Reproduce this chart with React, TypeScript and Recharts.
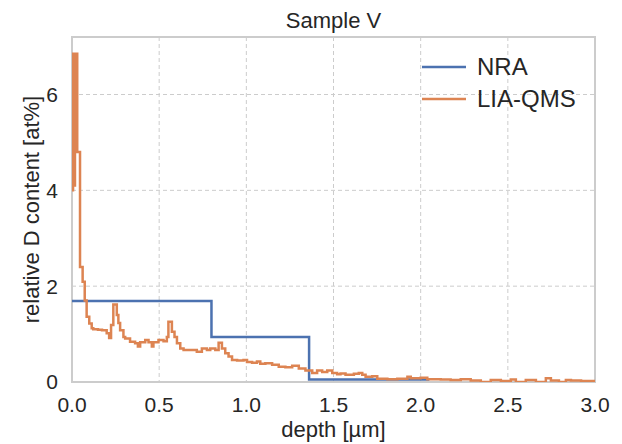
import React from 'react';
import { LineChart, Line, XAxis, YAxis, CartesianGrid, ReferenceArea, Label } from 'recharts';

const NRA_DEPTH = [0, 0.8, 1.36, 2.05];
const NRA_VALUE = [1.69, 0.94, 0.05, 0.05];

const LIA_DEPTH = [
  0, 0.006, 0.011, 0.017, 0.03, 0.046, 0.061, 0.073, 0.084, 0.099,
  0.113, 0.122, 0.149, 0.172, 0.199, 0.213, 0.224, 0.237, 0.257, 0.266,
  0.276, 0.295, 0.305, 0.333, 0.362, 0.378, 0.391, 0.42, 0.439, 0.458,
  0.467, 0.496, 0.525, 0.544, 0.553, 0.573, 0.588, 0.602, 0.621, 0.64,
  0.716, 0.745, 0.774, 0.793, 0.822, 0.841, 0.86, 0.879, 0.898, 0.918,
  0.947, 0.984, 1.004, 1.033, 1.061, 1.08, 1.109, 1.148, 1.186, 1.224,
  1.263, 1.301, 1.339, 1.378, 1.406, 1.435, 1.464, 1.493, 1.521, 1.54,
  1.569, 1.617, 1.645, 1.665, 1.684, 1.722, 1.751, 1.809, 1.866, 1.924,
  1.943, 2.0, 2.038, 2.115, 2.172, 2.23, 2.287, 2.345, 2.402, 2.46,
  2.517, 2.546, 2.603, 2.661, 2.718, 2.747, 2.793, 2.833, 2.862, 2.92, 3.0,
];
const LIA_VALUE = [
  4.0, 6.85, 4.1, 6.85, 4.8, 2.4, 2.09, 1.7, 1.36, 1.22,
  1.12, 1.1, 1.09, 1.08, 1.02, 0.92, 1.19, 1.62, 1.4, 1.23,
  1.08, 0.94, 0.91, 0.84, 0.81, 0.74, 0.83, 0.875, 0.83, 0.74,
  0.83, 0.875, 0.85, 0.94, 1.26, 1.05, 0.94, 0.81, 0.7, 0.67,
  0.63, 0.7, 0.67, 0.7, 0.67, 0.82, 0.7, 0.6, 0.53, 0.46,
  0.45, 0.46, 0.42, 0.4, 0.43, 0.38, 0.39, 0.36, 0.32, 0.31,
  0.34, 0.28, 0.24, 0.19, 0.24, 0.21, 0.24, 0.19, 0.16, 0.18,
  0.15, 0.17, 0.19, 0.15, 0.11, 0.12, 0.07, 0.06, 0.07, 0.11,
  0.08, 0.09, 0.06, 0.05, 0.04, 0.06, 0.03, 0.0, 0.04, 0.02,
  0.05, 0.0, 0.04, 0.0, 0.08, 0.03, 0.0, 0.04, 0.03, 0.02, 0.02,
];

const X_TICKS = [0, 0.5, 1, 1.5, 2, 2.5, 3];
const Y_TICKS = [0, 2, 4, 6];

const nraData = NRA_DEPTH.map((x, i) => ({ x, y: NRA_VALUE[i] }));
const liaData = LIA_DEPTH.map((x, i) => ({ x, y: LIA_VALUE[i] }));

const FONT = '"Liberation Sans", Arial, sans-serif';
const TEXT = '#262626';
const BLUE = '#4c72b0';
const ORANGE = '#dd8452';

// title + legend overlay, laid on top of the chart svg
function Overlay() {
  return (
    <svg width={622} height={130} style={{ position: 'absolute', left: 0, top: 0, fontFamily: FONT, pointerEvents: 'none' }}>
      <text x={333.5} y={28} textAnchor="middle" fontSize={22} fill={TEXT}>Sample V</text>
      <line x1={422} x2={466} y1={67} y2={67} stroke={BLUE} strokeWidth={2.5} />
      <text x={477} y={75} fontSize={24} fill={TEXT}>NRA</text>
      <line x1={422} x2={466} y1={99} y2={99} stroke={ORANGE} strokeWidth={2.5} />
      <text x={477} y={107} fontSize={24} fill={TEXT}>LIA-QMS</text>
    </svg>
  );
}

export default function App() {
  return (
    <div style={{ position: 'absolute', left: 0, top: 0, width: 622, height: 444, background: '#fff', fontFamily: FONT }}>
      <LineChart width={622} height={444} margin={{ top: 37, right: 27, bottom: 0, left: 0 }}>
        <CartesianGrid stroke="#cccccc" strokeDasharray="4 3" strokeWidth={1} />
        <XAxis
          type="number"
          dataKey="x"
          domain={[0, 3]}
          ticks={X_TICKS}
          tickFormatter={(v: number) => v.toFixed(1)}
          height={62}
          axisLine={false}
          tickLine={false}
          tickSize={0}
          tickMargin={15}
          tick={{ fill: TEXT, fontSize: 21, fontFamily: FONT }}
          allowDataOverflow
        >
          <Label value="depth [µm]" position="insideBottom" offset={7} fill={TEXT} fontSize={22} fontFamily={FONT} />
        </XAxis>
        <YAxis
          type="number"
          domain={[0, 7.2]}
          ticks={Y_TICKS}
          width={72}
          axisLine={false}
          tickLine={false}
          tickSize={0}
          tickMargin={14}
          tick={{ fill: TEXT, fontSize: 21, fontFamily: FONT }}
          allowDataOverflow
        >
          <Label
            value="relative D content [at%]"
            angle={-90}
            position="insideLeft"
            textAnchor="middle"
            offset={31}
            fill={TEXT}
            fontSize={22}
            fontFamily={FONT}
          />
        </YAxis>
        <Line data={nraData} dataKey="y" type="stepAfter" stroke={BLUE} strokeWidth={2.5} dot={false} isAnimationActive={false} />
        <Line data={liaData} dataKey="y" type="stepAfter" stroke={ORANGE} strokeWidth={2.5} dot={false} isAnimationActive={false} />
        <ReferenceArea x1={0} x2={3} y1={0} y2={7.2} fill="none" stroke="#cccccc" strokeWidth={2} ifOverflow="visible" />
      </LineChart>
      <Overlay />
    </div>
  );
}
